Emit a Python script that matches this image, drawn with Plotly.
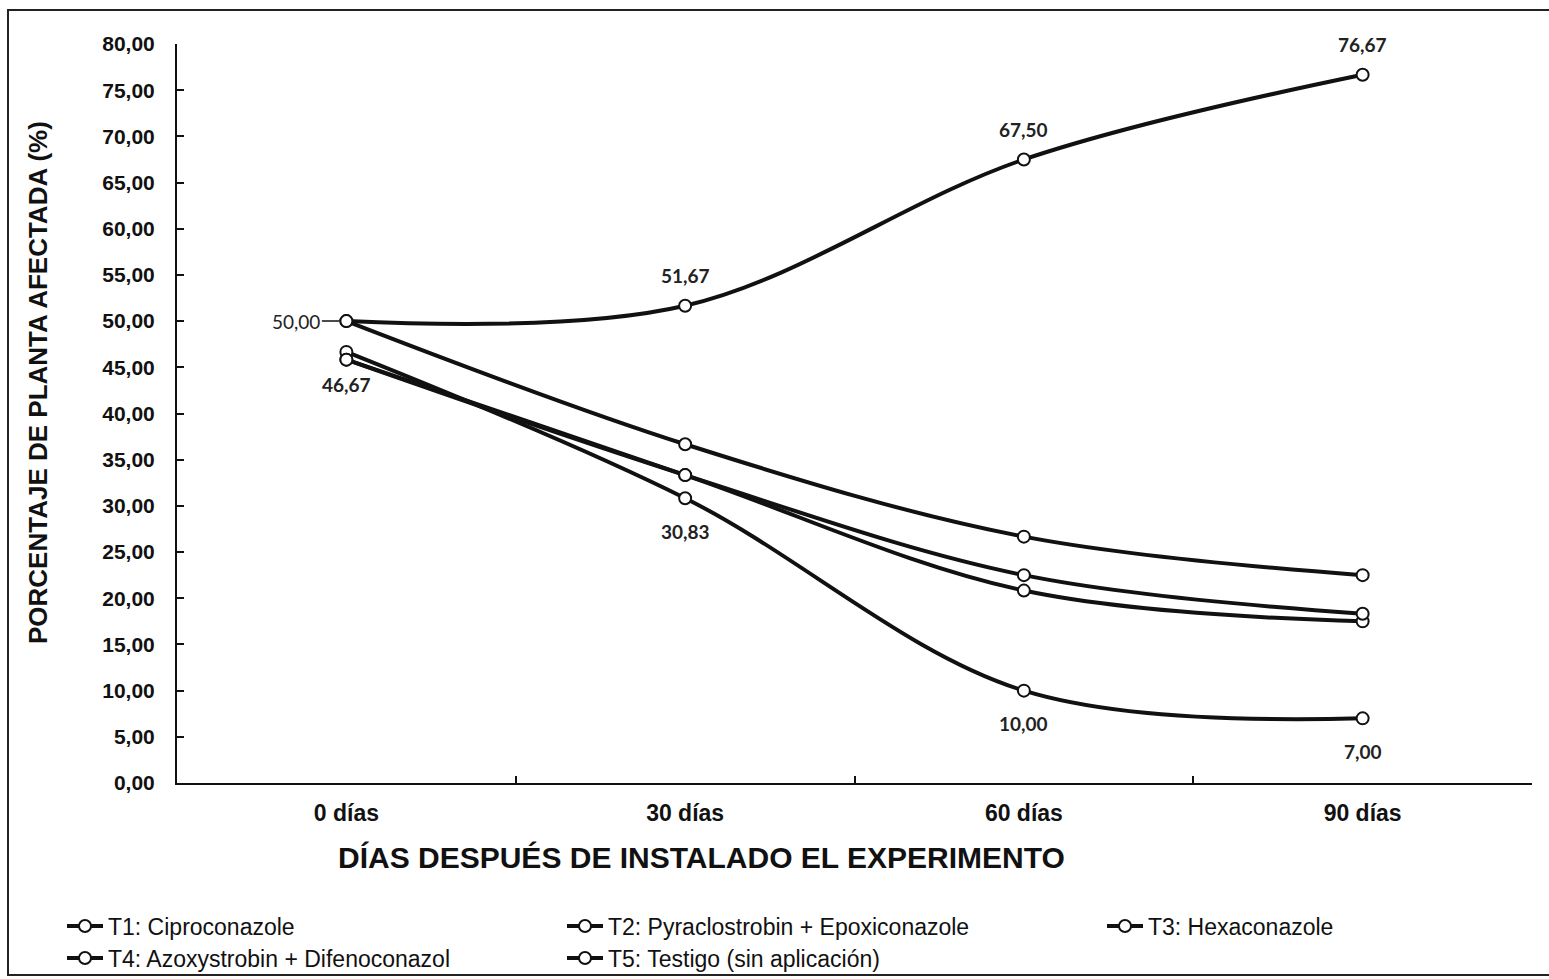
import plotly.graph_objects as go

# Días después de instalado el experimento
dias = ["0 días", "30 días", "60 días", "90 días"]

# Porcentaje de planta afectada (%) por tratamiento
t1 = [45.83, 33.33, 22.50, 18.33]
t2 = [45.83, 33.33, 20.83, 17.50]
t3 = [50.00, 36.67, 26.67, 22.50]
t4 = [46.67, 30.83, 10.00, 7.00]
t5 = [50.00, 51.67, 67.50, 76.67]

nombres = [
    "T1: Ciproconazole",
    "T2: Pyraclostrobin + Epoxiconazole",
    "T3: Hexaconazole",
    "T4: Azoxystrobin + Difenoconazol",
    "T5: Testigo (sin aplicación)",
]
series = [t1, t2, t3, t4, t5]

# Tick values of the percentage axis
y_ticks = [0, 5, 10, 15, 20, 25, 30, 35, 40, 45, 50, 55, 60, 65, 70, 75, 80]

# Plot-area geometry in pixels (used for paper-coordinate placement)
W, H = 1549, 979
L, R, T, B = 177, 17, 44, 196
PW, PH = W - L - R, H - T - B


def px_x(px):
    return (px - L) / PW


def px_y(py):
    return (H - B - py) / PH


INK = "#111111"
SANS = "Liberation Sans, Arial, sans-serif"
TICK_FONT = dict(family=SANS, size=21, color=INK, weight="bold")
LABEL_FONT = dict(family="Lato, Carlito, sans-serif", size=19, color="#222222", weight="bold")
LEGEND_FONT = dict(family=SANS, size=23, color=INK)

# legend slot (left pixel, row centre pixel) for each treatment
legend_slots = [(62, 926), (562, 926), (1102, 926), (62, 958), (562, 958)]

fig = go.Figure()
order = [3, 2, 1, 0, 4]
for i in order:
    key = "legend" if i == 0 else f"legend{i + 1}"
    fig.add_trace(
        go.Scatter(
            x=dias,
            y=series[i],
            name=nombres[i],
            mode="lines+markers",
            line=dict(color=INK, width=4, shape="spline", smoothing=1.0),
            marker=dict(size=12, color="white", line=dict(color=INK, width=2)),
            legend=key,
            cliponaxis=False,
        )
    )

legends = {}
for i, (lx, ly) in enumerate(legend_slots):
    key = "legend" if i == 0 else f"legend{i + 1}"
    legends[key] = dict(
        x=px_x(lx),
        y=px_y(ly),
        xanchor="left",
        yanchor="middle",
        xref="paper",
        yref="paper",
        font=LEGEND_FONT,
        bgcolor="rgba(0,0,0,0)",
        borderwidth=0,
        itemwidth=36,
        tracegroupgap=0,
    )

# Data labels
annotations = []


def fmt(v):
    return f"{v:.2f}".replace(".", ",")


for j in (1, 2, 3):
    annotations.append(dict(x=dias[j], y=t5[j], text=fmt(t5[j]), showarrow=False,
                            yshift=30, font=LABEL_FONT))
# first testigo value, with a short leader line
annotations.append(dict(x=dias[0], y=t5[0], text=fmt(t5[0]), showarrow=True,
                        arrowhead=0, arrowwidth=1.5, arrowcolor=INK, ax=-50, ay=0,
                        standoff=7, font=dict(LABEL_FONT, weight="normal")))
for j in range(4):
    annotations.append(dict(x=dias[j], y=t4[j], text=fmt(t4[j]), showarrow=False,
                            yshift=-33, font=LABEL_FONT))

# axis titles
annotations.append(dict(
    text="PORCENTAJE DE PLANTA AFECTADA (%)", xref="paper", yref="paper",
    x=px_x(38), y=px_y(383), xanchor="center", yanchor="middle", textangle=-90,
    showarrow=False, font=dict(family=SANS, size=26, color=INK, weight="bold"),
))
annotations.append(dict(
    text="DÍAS DESPUÉS DE INSTALADO EL EXPERIMENTO", xref="paper", yref="paper",
    x=px_x(701), y=px_y(858), xanchor="center", yanchor="middle",
    showarrow=False, font=dict(family=SANS, size=30, color=INK, weight="bold"),
))

fig.update_layout(
    width=W,
    height=H,
    margin=dict(l=L, r=R, t=T, b=B, autoexpand=False),
    paper_bgcolor="white",
    plot_bgcolor="white",
    separators=",.",
    showlegend=True,
    annotations=annotations,
    shapes=[
        dict(type="rect", xref="paper", yref="paper",
             x0=px_x(8), x1=px_x(1565), y0=px_y(975), y1=px_y(10),
             line=dict(color="#222222", width=2), fillcolor="rgba(0,0,0,0)", layer="below"),
    ],
    xaxis=dict(
        type="category",
        range=[-0.5, 3.5],
        automargin=False,
        showline=True,
        linecolor=INK,
        linewidth=2,
        ticks="inside",
        tickson="boundaries",
        ticklen=7,
        tickwidth=1.5,
        tickcolor=INK,
        showgrid=False,
        zeroline=False,
        tickfont=dict(family=SANS, size=23, color=INK, weight="bold"),
        ticklabelstandoff=8,
    ),
    yaxis=dict(
        range=[0, 80],
        automargin=False,
        tickvals=y_ticks,
        tickformat=".2f",
        showline=True,
        linecolor=INK,
        linewidth=2,
        ticks="inside",
        ticklen=7,
        tickwidth=1.5,
        tickcolor=INK,
        showgrid=False,
        zeroline=False,
        tickfont=TICK_FONT,
        ticklabelstandoff=16,
    ),
    **legends,
)

fig.write_html("out.html")
